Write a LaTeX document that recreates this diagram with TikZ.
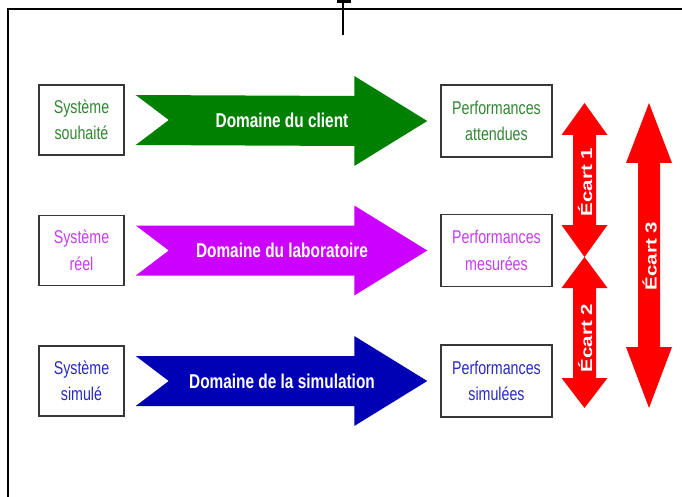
\documentclass[tikz,border=0pt]{standalone}
\usepackage{fontspec}
\usepackage{graphicx}
\setmainfont{Liberation Sans}
\newfontfamily\nar{Liberation Sans}[FakeStretch=0.77]
\usetikzlibrary{calc}
\definecolor{dgreen}{RGB}{0,128,0}
\definecolor{tgreen}{RGB}{50,135,50}
\definecolor{dmag}{RGB}{204,0,255}
\definecolor{tmag}{RGB}{200,60,240}
\definecolor{dblue}{RGB}{0,0,180}
\definecolor{tblue}{RGB}{40,40,200}
\definecolor{ered}{RGB}{255,0,0}
\definecolor{bord}{RGB}{55,55,55}
\newcommand\domarrow[4]{%
  \path ($(#1.east)+(11,0)$) coordinate (#4t) ($(#2.west)+(-13,0)$) coordinate (#4h);
  \fill[#3] ($(#4t)+(0,-25)$) -- ($(#4h)+(-73,-25)$) -- ($(#4h)+(-73,-45)$) -- (#4h)
     -- ($(#4h)+(-73,45)$) -- ($(#4h)+(-73,25)$) -- ($(#4t)+(0,25)$) -- ($(#4t)+(33,0)$) -- cycle;
}
\newcommand\ecartarrow[7]{% cx, top, base1, base2, bottom, shaft hw, head hw
  \fill[ered] (#1,#2) -- (#1+#7,#3) -- (#1+#6,#3) -- (#1+#6,#4) -- (#1+#7,#4) -- (#1,#5)
     -- (#1-#7,#4) -- (#1-#6,#4) -- (#1-#6,#3) -- (#1-#7,#3) -- cycle;
}
\begin{document}
\begin{tikzpicture}[x=1pt,y=-1pt,
  lbox/.style={draw=bord,line width=1.5pt,fill=white,inner sep=0pt,
     minimum width=85pt,minimum height=70pt,align=center,
     font=\nar\fontsize{18.5}{26.5}\selectfont},
  rbox/.style={lbox,minimum width=111pt,minimum height=72pt},
  dlabel/.style={text=white,font=\nar\bfseries\fontsize{20}{20}\selectfont,inner sep=0pt},
  elabel/.style={text=white,rotate=90,font=\bfseries\fontsize{20.5}{20.5}\selectfont,inner sep=0pt}]
\useasboundingbox (0,0) rectangle (682,497);
\fill[white] (0,0) rectangle (682,497);
% frame
\draw[line width=1.6pt] (8,497) -- (8,9) -- (682,9);
\coordinate (tb) at (343,35);
\coordinate (tt) at (343,1.5);
\draw[line width=1.3pt] (tb) -- (tt);
\draw[line width=2.6pt] ($(tt)+(-6.5,0)$) -- ($(tt)+(7.5,0)$);
% boxes
\node[lbox,text=tgreen] (s1) at (81.5,120) {Système\\souhaité};
\node[lbox,text=tmag]   (s2) at (81.5,250.5) {Système\\réel};
\node[lbox,text=tblue]  (s3) at (81.5,381) {Système\\simulé};
\node[rbox,text=tgreen] (p1) at (496.5,121) {Performances\\attendues};
\node[rbox,text=tmag]   (p2) at (496.5,250.5) {Performances\\mesurées};
\node[rbox,text=tblue]  (p3) at (496.5,381) {Performances\\simulées};
% domain arrows
\domarrow{s1}{p1}{dgreen}{a1}
\domarrow{s2}{p2}{dmag}{a2}
\domarrow{s3}{p3}{dblue}{a3}
\node[dlabel] (d1) at (282,120) {Domaine du client};
\node[dlabel] (d2) at (282,250) {Domaine du laboratoire};
\node[dlabel] (d3) at (282,381) {Domaine de la simulation};
% gaps
\ecartarrow{584.5}{103}{135}{225}{257}{11.5}{23}
\ecartarrow{584.5}{257}{288}{378}{408}{11.5}{23}
\ecartarrow{649}{103}{163}{347}{408}{11}{23}
\node[elabel] (e1) at (585,182) {\scalebox{1}[0.78]{Écart 1}};
\node[elabel] (e2) at (585,338) {\scalebox{1}[0.78]{Écart 2}};
\node[elabel] (e3) at (649.5,256) {\scalebox{1}[0.78]{Écart 3}};
\end{tikzpicture}
\end{document}
